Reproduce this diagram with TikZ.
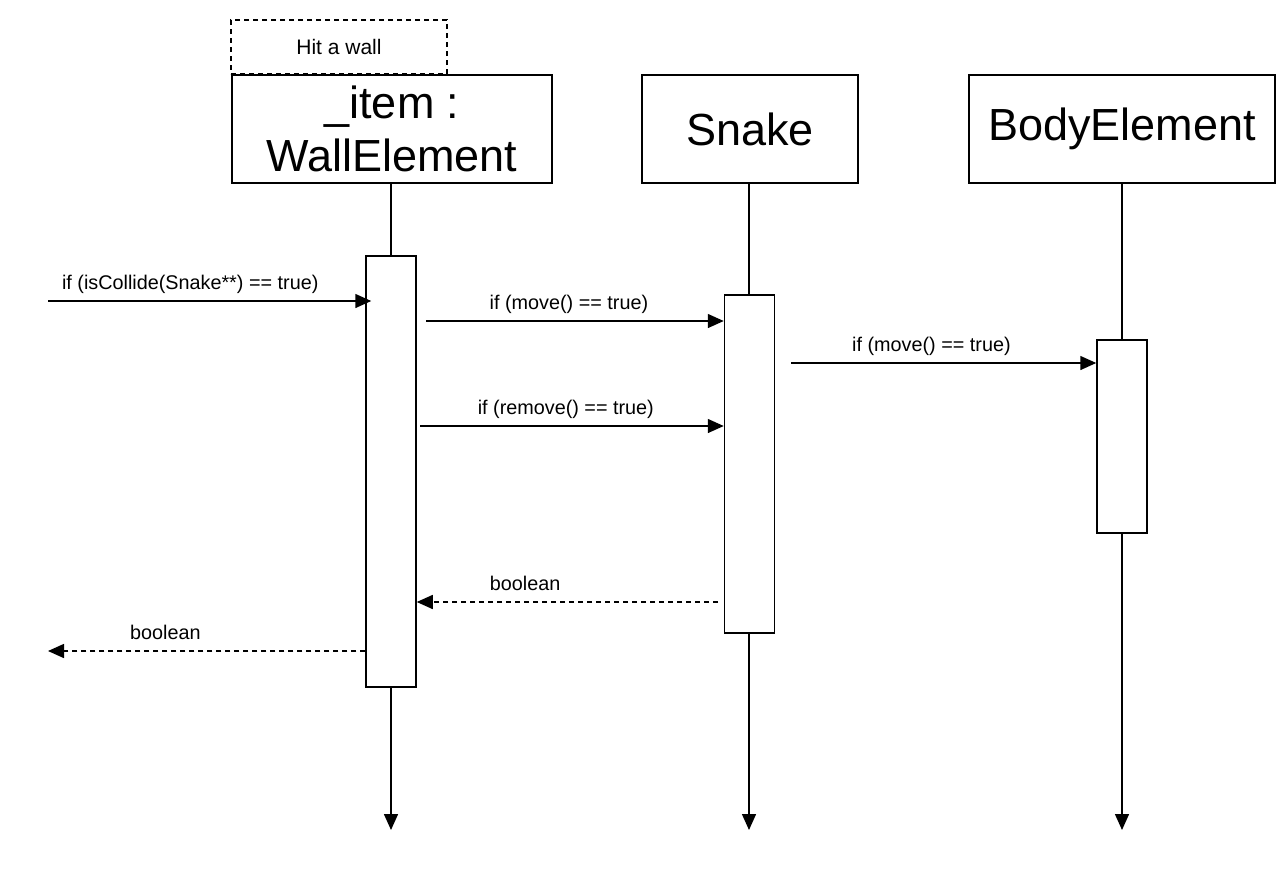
\documentclass[tikz,border=0pt]{standalone}
\usepackage{fontspec}
\setmainfont{Liberation Sans}
\usetikzlibrary{arrows.meta,positioning}

\begin{document}
\begin{tikzpicture}[x=1pt,y=-1pt]
    \tikzset{obj/.style={draw, line width=1.5pt, minimum height=108pt,
            inner sep=0pt, align=center,
            font=\fontsize{45}{53}\selectfont},
        act/.style={draw, fill=white, line width=1.5pt,
            minimum width=50pt, inner sep=0pt},
        life/.style={line width=1.5pt, -{Triangle[length=16pt,width=14pt]}},
        msg/.style={line width=1.5pt, -{Triangle[length=16pt,width=14pt]}},
        ret/.style={msg, dash pattern=on 5pt off 4pt},
        lbl/.style={font=\fontsize{19.8}{23}\selectfont, above,
            text depth=5pt, inner sep=6pt}}
    \useasboundingbox (0,0) rectangle (1278,873);
    % objects
    \node[draw, line width=1.3pt, dash pattern=on 5pt off 4pt,
        minimum width=216pt, minimum height=54pt,
        font=\fontsize{21}{25}\selectfont] (note) at (339,47) {Hit a wall};
    \node[obj, fill=white, minimum width=320pt] (wall) at (392,129)
        {\_item :\\WallElement};
    \node[obj, minimum width=216pt] (snake) at (750,129) {Snake};
    \node[obj, minimum width=306pt] (body) at (1122,129) {BodyElement};
    % lifelines
    \coordinate (wallEnd) at (391,830);
    \coordinate (snakeEnd) at (749,830);
    \coordinate (bodyEnd) at (1122,830);
    \draw[life] (wall.south -| wallEnd) -- (wallEnd);
    \draw[life] (snake.south -| snakeEnd) -- (snakeEnd);
    \draw[life] (body.south -| bodyEnd) -- (bodyEnd);
    % activations
    \node[act, minimum height=431pt] (wallAct) at (391,471.5) {};
    \node[act, minimum height=338pt] (snakeAct) at (749.5,464) {};
    \node[act, minimum height=193pt] (bodyAct) at (1122,436.5) {};
    % messages
    \coordinate (call) at (48,301);
    \coordinate (mv1) at (426,321);
    \coordinate (mv2) at (791,363);
    \coordinate (rm) at (420,426);
    \coordinate (back1) at (718,602);
    \coordinate (back2) at (48,651);
    \draw[msg] (call) -- ([xshift=6pt]wallAct.west |- call)
        node[lbl, pos=0.44] {if (isCollide(Snake**) == true)};
    \draw[msg] (mv1) -- (snakeAct.west |- mv1)
        node[lbl, pos=0.48] {if (move() == true)};
    \draw[msg] (mv2) -- (bodyAct.west |- mv2)
        node[lbl, pos=0.46] {if (move() == true)};
    \draw[msg] (rm) -- (snakeAct.west |- rm)
        node[lbl, pos=0.48] {if (remove() == true)};
    \draw[ret] (back1) -- (wallAct.east |- back1)
        node[lbl, pos=0.64] {boolean};
    \draw[ret] (wallAct.west |- back2) -- (back2)
        node[lbl, pos=0.63] {boolean};
\end{tikzpicture}
\end{document}
